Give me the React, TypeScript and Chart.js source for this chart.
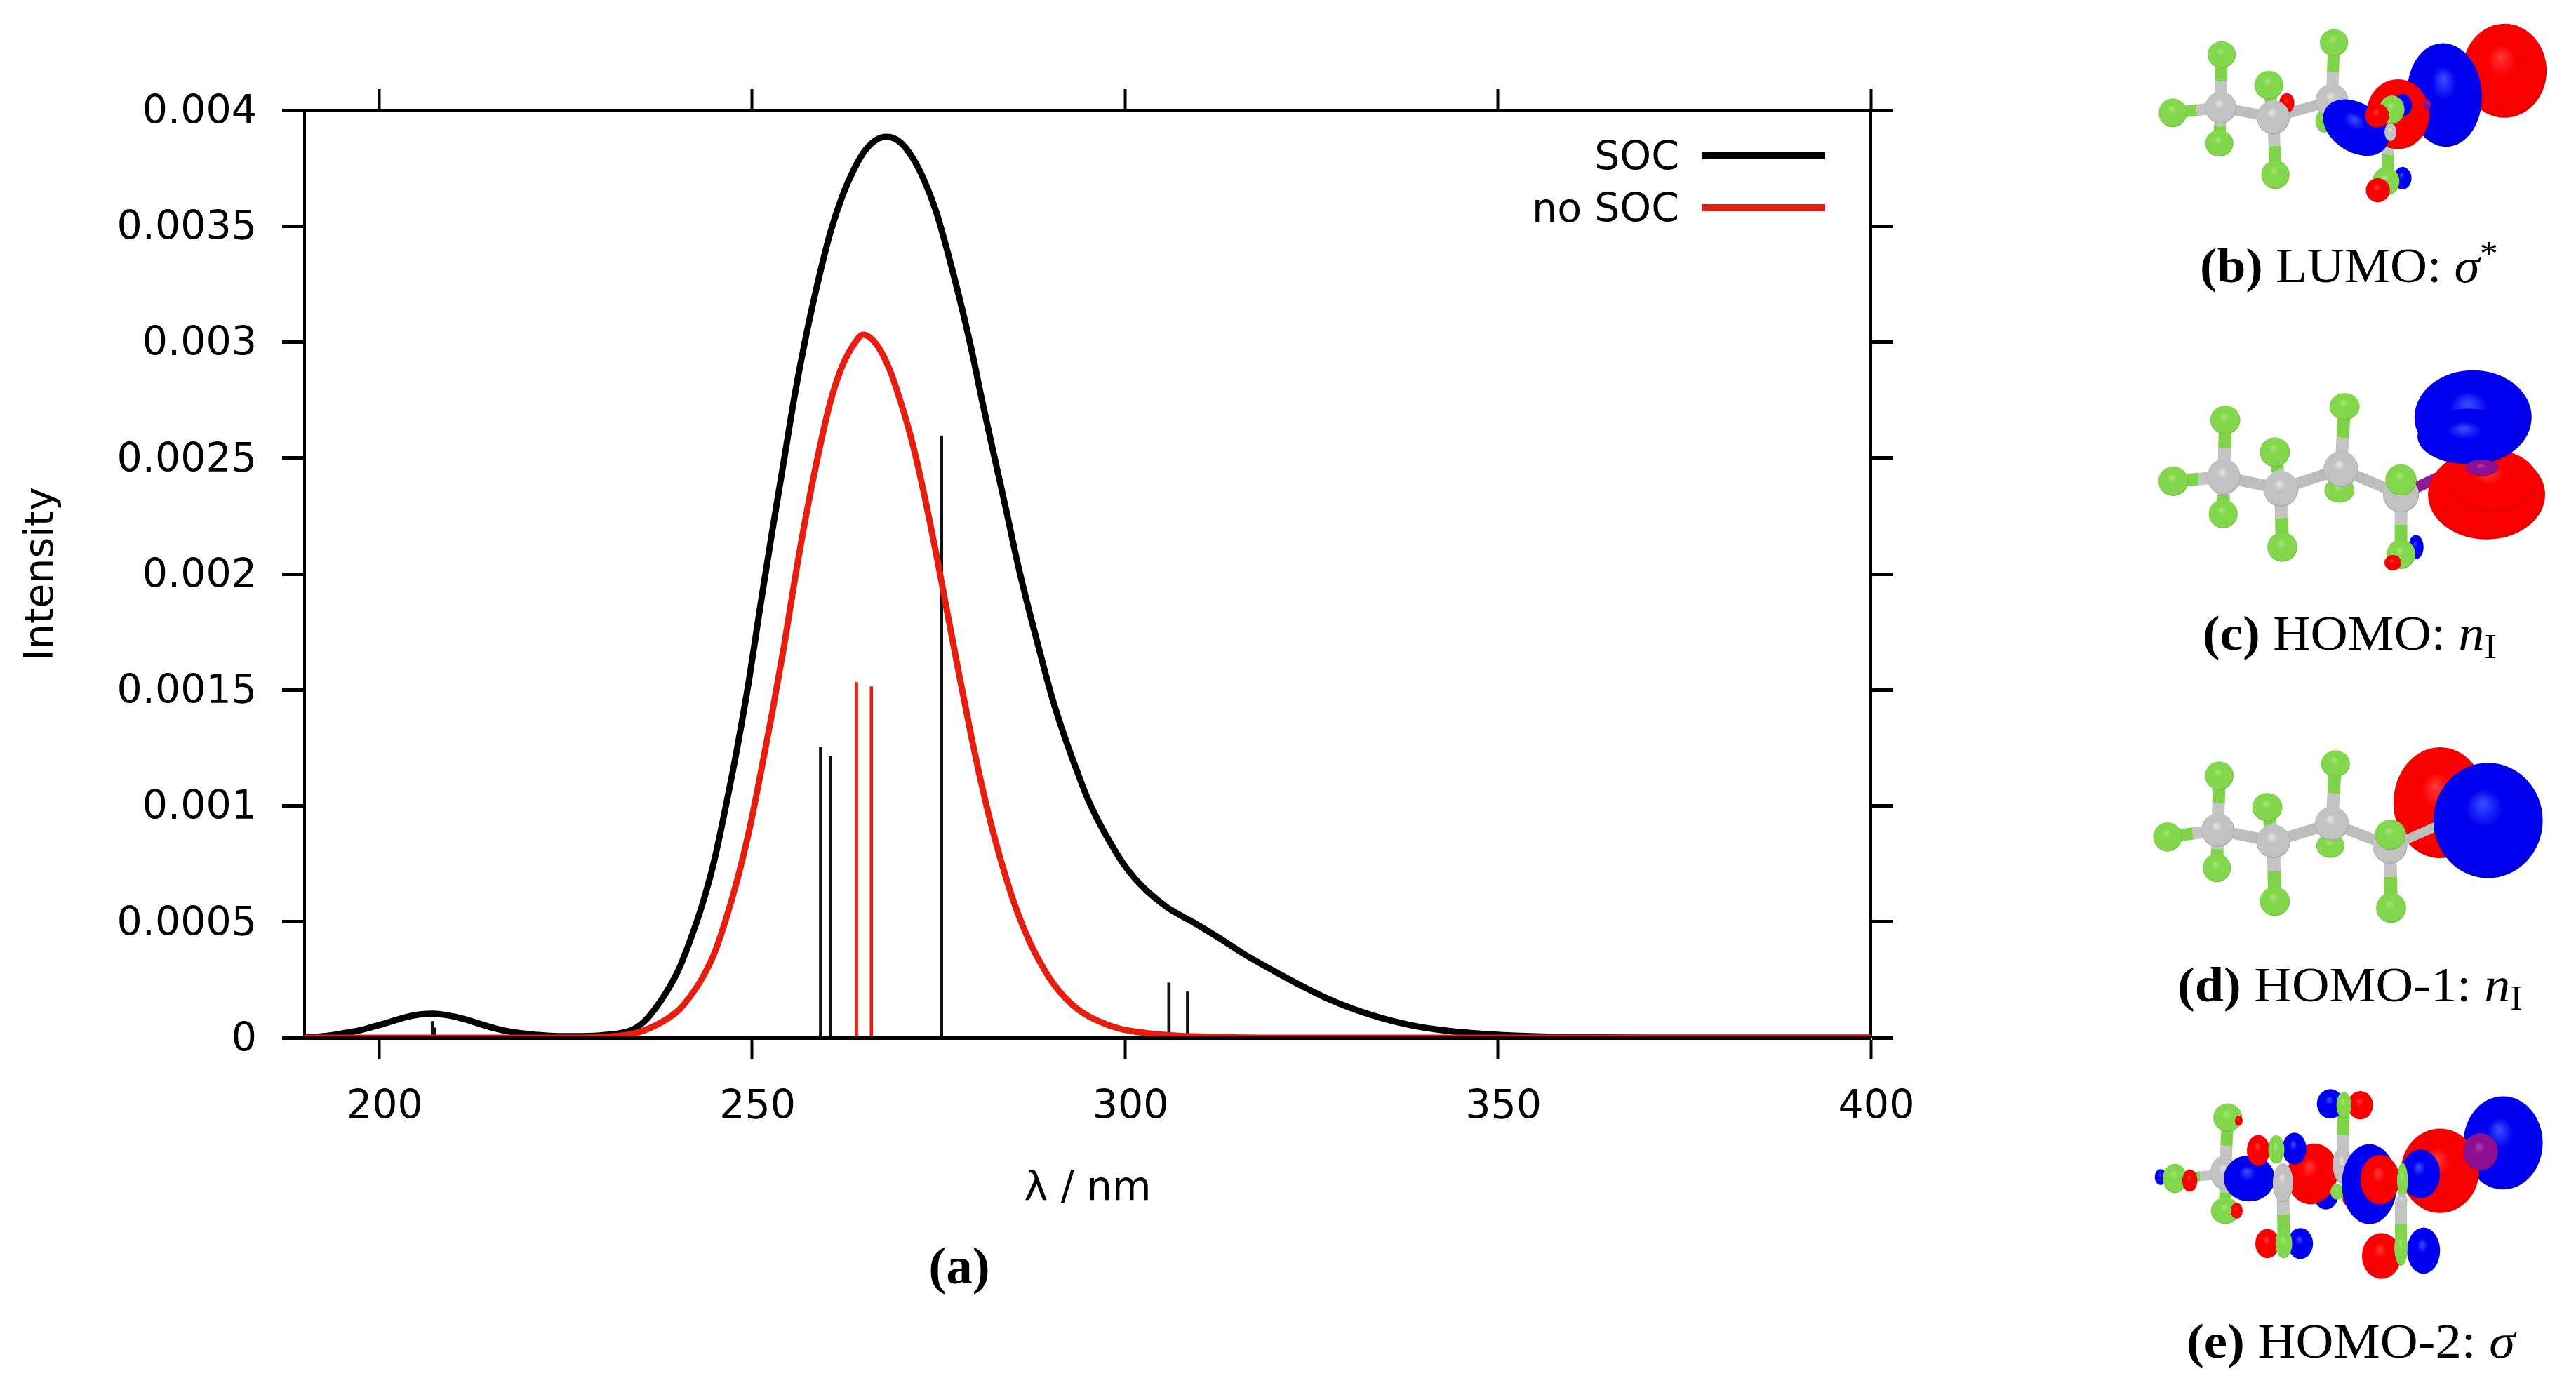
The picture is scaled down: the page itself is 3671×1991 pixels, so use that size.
import { useEffect, useRef } from "react"
import { Chart, registerables } from "chart.js"

Chart.register(...registerables)

const socWavelengths = [190, 192.8, 194.3, 195.9, 197.5, 199, 200.6, 202.2, 203.7, 205.3, 207.3, 209, 211.6, 213.1, 214.7, 216.2, 217.8, 219.4, 220.9, 224, 227.2, 230.3, 233.9, 235.5, 237, 238.6, 240.2, 241.7, 243.3, 244.9, 246.4, 248, 249.6, 251.1, 252.7, 254.3, 255.8, 257.4, 259, 260.5, 262.1, 263.7, 265.2, 266.8, 268.1, 269.9, 271.5, 273.1, 274.7, 276.2, 277.8, 279.4, 280.9, 282.5, 284.1, 285.6, 287.2, 288.8, 290.3, 291.9, 293.5, 295, 296.6, 298.2, 299.7, 301.3, 302.9, 304.5, 306, 309.2, 312.5, 316, 319.9, 323.5, 327.1, 330.7, 334.3, 337.9, 341.5, 345.1, 348.7, 352.3, 355.9, 360, 370, 400]
const socIntensity = [0.000001, 0.000008, 0.000014, 0.000023, 0.000033, 0.000046, 0.00006, 0.000076, 0.00009, 0.0001, 0.000104, 0.000098, 0.000079, 0.000064, 0.000048, 0.000035, 0.000025, 0.000018, 0.000013, 0.000007, 0.000007, 0.000012, 0.000034, 0.000069, 0.000125, 0.000201, 0.000297, 0.00042, 0.000571, 0.000759, 0.000985, 0.001248, 0.001544, 0.00186, 0.002183, 0.002494, 0.002785, 0.003051, 0.003282, 0.003473, 0.003629, 0.003747, 0.003828, 0.003875, 0.003885, 0.003861, 0.003796, 0.003696, 0.003561, 0.003391, 0.003191, 0.002971, 0.002739, 0.002504, 0.002272, 0.002047, 0.001835, 0.001637, 0.001459, 0.001299, 0.001156, 0.001031, 0.000924, 0.000832, 0.000754, 0.000688, 0.000635, 0.000591, 0.000555, 0.000497, 0.000433, 0.00036, 0.000289, 0.000227, 0.00017, 0.000123, 0.000086, 0.000057, 0.000037, 0.000024, 0.000015, 0.000009, 0.000005, 0.000002, 0, 0]

const noSocWavelengths = [190, 225, 230, 233.9, 237, 240.2, 241.7, 243.3, 244.9, 246.4, 248, 249.6, 251.1, 252.7, 254.3, 255.8, 257.4, 259, 260.5, 262.1, 263.7, 264.9, 266.8, 268.4, 269.9, 271.5, 273.1, 274.7, 275.5, 276.2, 277.8, 279.4, 280.9, 282.5, 284.1, 285.6, 287.2, 288.8, 290.3, 291.9, 293.5, 295, 296.6, 298.2, 299.7, 302.9, 306, 309.2, 312.3, 320, 400]
const noSocIntensity = [0, 0, 0.000004, 0.000016, 0.000052, 0.00012, 0.000178, 0.000256, 0.000361, 0.000501, 0.000679, 0.000891, 0.001131, 0.001401, 0.001691, 0.001989, 0.002279, 0.002534, 0.002742, 0.002897, 0.002992, 0.003032, 0.002985, 0.002885, 0.002745, 0.002565, 0.00234, 0.002085, 0.00195, 0.00183, 0.00156, 0.0013, 0.001075, 0.000865, 0.000685, 0.00054, 0.000415, 0.000315, 0.000238, 0.000175, 0.000127, 0.000095, 0.00007, 0.00005, 0.000036, 0.00002, 0.000011, 0.000006, 0.000003, 0, 0]

// 계산된 전이 (stick spectrum)
const socStickX = [207.15, 207.4, 259.2, 260.5, 275.4, 305.9, 308.4]
const socStickY = [0.000071, 0.000043, 0.001253, 0.001212, 0.002596, 0.000237, 0.000198]
const noSocStickX = [264, 266]
const noSocStickY = [0.001532, 0.001514]

const xTicks = [200, 250, 300, 350, 400]
const SOC_LABEL = "SOC"
const NO_SOC_LABEL = "no SOC"
const BLACK = "#000000"
const RED = "#e51e10"
const FONT = "'DejaVu Sans'"

const zip = (xs: number[], ys: number[]) => xs.map((x, i) => ({ x, y: ys[i] }))

// 범례: 글자 오른쪽에 선이 오는 gnuplot 형태
const legendPlugin = {
  id: "rightKey",
  afterDatasetsDraw(chart: Chart) {
    const { ctx } = chart
    const rows = [
      { label: SOC_LABEL, color: BLACK, y: 222 },
      { label: NO_SOC_LABEL, color: RED, y: 296 },
    ]
    ctx.save()
    ctx.font = `57px ${FONT}`
    ctx.textAlign = "right"
    ctx.textBaseline = "middle"
    rows.forEach((row) => {
      ctx.fillStyle = BLACK
      ctx.fillText(row.label, 2393, row.y + 5)
      ctx.fillStyle = row.color
      ctx.fillRect(2425, row.y - 5, 176, 10)
    })
    ctx.restore()
  },
}

type Shape = (string | number)[]

const GRAY = "g"
const GREEN = "f"
const R = "r"
const B = "b"
const P = "p"

// 분자 그림: [종류, ...좌표]. bond는 C->F 반쪽씩 색이 다름
const panelB: Shape[] = [
  ["cc", 385, 240, 560, 262, 24], ["cc", 560, 262, 755, 225, 24], ["cc", 755, 225, 945, 285, 24],
  ["cf", 385, 240, 225, 252, 26], ["cf", 385, 240, 388, 122, 40], ["cf", 385, 240, 380, 320, 40],
  ["cf", 560, 262, 545, 190, 40], ["cf", 560, 262, 567, 390, 40], ["cf", 755, 225, 762, 95, 40],
  ["cf", 945, 285, 940, 405, 40],
  [GREEN, 225, 252, 47, 32], [GREEN, 388, 122, 47, 30], [GREEN, 380, 320, 47, 30],
  [GREEN, 567, 390, 47, 32], [GREEN, 762, 95, 47, 30], [GREEN, 730, 270, 30, 26],
  [R, 605, 230, 25, 22],
  [GRAY, 385, 240, 52, 36], [GRAY, 560, 262, 55, 38], [GRAY, 755, 225, 55, 38],
  [GREEN, 545, 190, 48, 32],
  [R, 1330, 158, 140, 105], [B, 1130, 212, 125, 115, 15], [R, 975, 255, 105, 78],
  [P, 1072, 233, 12, 12],
  [B, 835, 285, 112, 58, 15], [GRAY, 950, 295, 20, 20],
  [B, 990, 235, 32, 25], [GREEN, 955, 245, 42, 32], [R, 905, 258, 40, 27],
  [B, 990, 398, 30, 25], [GREEN, 935, 405, 45, 32], [R, 908, 425, 40, 27],
]

const panelC: Shape[] = [
  ["cc", 395, 1065, 585, 1092, 26], ["cc", 585, 1092, 785, 1048, 26], ["cc", 785, 1048, 985, 1105, 26],
  ["bi", 985, 1105, 1210, 1035, 26],
  ["cf", 395, 1065, 227, 1075, 28], ["cf", 395, 1065, 400, 938, 42], ["cf", 395, 1065, 393, 1148, 42],
  ["cf", 585, 1092, 565, 1010, 42], ["cf", 585, 1092, 590, 1222, 44], ["cf", 785, 1048, 797, 908, 42],
  ["cf", 985, 1105, 985, 1238, 42],
  [GREEN, 227, 1075, 50, 33], [GREEN, 400, 938, 50, 32], [GREEN, 393, 1148, 48, 32],
  [GREEN, 590, 1222, 50, 33], [GREEN, 797, 908, 50, 30], [GREEN, 780, 1095, 50, 28],
  [GRAY, 395, 1065, 55, 40], [GRAY, 585, 1092, 58, 40], [GRAY, 785, 1048, 58, 40], [GRAY, 985, 1105, 60, 40],
  [GREEN, 565, 1010, 50, 33], [GREEN, 985, 1072, 52, 35],
  [B, 1035, 1222, 25, 27], [GREEN, 985, 1238, 48, 33], [R, 958, 1257, 28, 17],
  [R, 1270, 1105, 195, 100], [R, 1290, 1075, 150, 70],
  [B, 1225, 932, 195, 105], [B, 1210, 975, 170, 62],
  [P, 1255, 1045, 55, 18],
]

const panelD: Shape[] = [
  ["cc", 375, 290, 560, 315, 26], ["cc", 560, 315, 755, 275, 26], ["cc", 755, 275, 948, 325, 26],
  ["cc", 948, 325, 1100, 280, 24],
  ["cf", 375, 290, 208, 305, 28], ["cf", 375, 290, 380, 167, 42], ["cf", 375, 290, 372, 375, 42],
  ["cf", 560, 315, 540, 238, 42], ["cf", 560, 315, 565, 450, 44], ["cf", 755, 275, 767, 140, 42],
  ["cf", 948, 325, 952, 465, 44],
  [R, 1115, 228, 155, 125],
  [GREEN, 208, 305, 48, 33], [GREEN, 380, 167, 48, 32], [GREEN, 372, 375, 47, 32],
  [GREEN, 565, 450, 50, 33], [GREEN, 767, 140, 48, 30], [GREEN, 750, 325, 47, 27],
  [GRAY, 375, 290, 55, 38], [GRAY, 560, 315, 57, 38], [GRAY, 755, 275, 57, 38], [GRAY, 948, 325, 58, 40],
  [GREEN, 540, 238, 50, 32], [GREEN, 950, 300, 52, 34], [GREEN, 952, 465, 50, 34],
  ["cc", 1000, 312, 1100, 282, 22],
  [B, 1275, 268, 182, 130],
]

const panelE: Shape[] = [
  [B, 1325, 995, 132, 105],
  [B, 735, 1115, 40, 30], [R, 820, 1120, 30, 20],
  ["cc", 400, 1065, 590, 1090, 24],
  ["cf", 400, 1065, 408, 938, 40], ["cf", 400, 1065, 400, 1148, 40], ["cf", 400, 1065, 232, 1075, 22],
  [B, 185, 1072, 20, 18], [GREEN, 232, 1075, 40, 33], [R, 282, 1080, 25, 25],
  [GREEN, 408, 938, 48, 32], [R, 445, 945, 13, 12],
  [GREEN, 400, 1148, 48, 30], [R, 438, 1148, 20, 18],
  [GRAY, 395, 1062, 45, 38],
  [R, 690, 1065, 85, 68, -10],
  [B, 480, 1075, 85, 52],
  [R, 510, 1012, 38, 35], [B, 630, 1008, 40, 36], [GREEN, 570, 1010, 27, 32],
  ["cf", 592, 1090, 595, 1222, 42], [GRAY, 592, 1085, 34, 44],
  [R, 540, 1222, 40, 33], [B, 650, 1222, 42, 35], [GREEN, 595, 1222, 28, 33],
  ["cf", 790, 1045, 795, 910, 40],
  [B, 750, 907, 45, 33], [R, 850, 910, 42, 32], [GREEN, 795, 910, 25, 30],
  [GRAY, 790, 1045, 32, 42], [GREEN, 772, 1105, 22, 18],
  [R, 1115, 1058, 130, 95],
  [P, 1250, 1015, 58, 42],
  [B, 880, 1088, 92, 90],
  [B, 1050, 1065, 65, 55], [R, 915, 1078, 65, 56], [GREEN, 990, 1080, 18, 40],
  ["cf", 985, 1125, 985, 1230, 40], [GRAY, 988, 1125, 18, 16],
  [R, 920, 1250, 65, 52], [B, 1060, 1238, 55, 52], [GREEN, 985, 1232, 22, 40],
]

const blobFill: Record<string, string> = { g: "url(#gC)", f: "url(#gF)", r: "url(#gR)", b: "url(#gB)", p: "url(#gP)" }

function Molecule({ shapes, transform }: { shapes: Shape[]; transform: string }) {
  return (
    <g transform={transform}>
      {shapes.map((s, i) => {
        const [kind, a, b, c, d, e] = s as [string, number, number, number, number, number]
        if (kind === "cc") {
          return <line key={i} x1={a} y1={b} x2={c} y2={d} stroke="#bdbdbd" strokeWidth={e} />
        }
        if (kind === "bi") {
          return <line key={i} x1={a} y1={b} x2={c} y2={d} stroke="#8e1a94" strokeWidth={e} />
        }
        if (kind === "cf") {
          const mx = (a + c) / 2
          const my = (b + d) / 2
          return (
            <g key={i}>
              <line x1={a} y1={b} x2={mx} y2={my} stroke="#c4c4c4" strokeWidth={e} />
              <line x1={mx} y1={my} x2={c} y2={d} stroke="#7ed348" strokeWidth={e} />
            </g>
          )
        }
        return (
          <ellipse
            key={i}
            cx={a}
            cy={b}
            rx={c}
            ry={d}
            fill={blobFill[kind]}
            transform={e ? `rotate(${e} ${a} ${b})` : undefined}
          />
        )
      })}
    </g>
  )
}

function Gradient({ id, light, mid, dark }: { id: string; light: string; mid: string; dark: string }) {
  return (
    <radialGradient id={id} cx="0.5" cy="0.5" r="0.55" fx="0.45" fy="0.35">
      <stop offset="0" stopColor={light} />
      <stop offset="0.3" stopColor={mid} />
      <stop offset="0.85" stopColor={mid} />
      <stop offset="1" stopColor={dark} />
    </radialGradient>
  )
}

const serif = { fontFamily: "'Liberation Serif'", fontSize: 70, fill: "#000" }

function Illustrations() {
  return (
    <svg width={3671} height={1991} style={{ position: "absolute", left: 0, top: 0 }}>
      <defs>
        <Gradient id="gC" light="#e6e6e6" mid="#c2c2c2" dark="#8a8a8a" />
        <Gradient id="gF" light="#a6e878" mid="#82d74c" dark="#5c9a34" />
        <Gradient id="gR" light="#ff3a3a" mid="#fb0000" dark="#c80000" />
        <Gradient id="gB" light="#3a50ff" mid="#0000f0" dark="#0000a8" />
        <Gradient id="gP" light="#b040b0" mid="#8e1090" dark="#6a0a70" />
      </defs>
      <Molecule shapes={panelB} transform="translate(3000,0) scale(0.428,0.638)" />
      <Molecule shapes={panelC} transform="translate(3000,0) scale(0.428,0.638)" />
      <Molecule shapes={panelD} transform="translate(3000,1000) scale(0.428,0.632)" />
      <Molecule shapes={panelE} transform="translate(3000,1000) scale(0.428,0.632)" />

      <text x={1367} y={1829} textAnchor="middle" {...serif} fontSize={75} fontWeight="bold">
        (a)
      </text>
      <text x={3135} y={402} textLength={425} lengthAdjust="spacingAndGlyphs" {...serif}>
        <tspan fontWeight="bold">(b)</tspan> LUMO: <tspan fontStyle="italic">σ</tspan>
        <tspan dy={-24} fontSize={50}>*</tspan>
      </text>
      <text x={3139} y={926} textLength={419} lengthAdjust="spacingAndGlyphs" {...serif}>
        <tspan fontWeight="bold">(c)</tspan> HOMO: <tspan fontStyle="italic">n</tspan>
        <tspan dy={12} fontSize={50}>I</tspan>
      </text>
      <text x={3103} y={1427} textLength={492} lengthAdjust="spacingAndGlyphs" {...serif}>
        <tspan fontWeight="bold">(d)</tspan> HOMO-1: <tspan fontStyle="italic">n</tspan>
        <tspan dy={12} fontSize={50}>I</tspan>
      </text>
      <text x={3116} y={1935} textLength={468} lengthAdjust="spacingAndGlyphs" {...serif}>
        <tspan fontWeight="bold">(e)</tspan> HOMO-2: <tspan fontStyle="italic">σ</tspan>
      </text>
    </svg>
  )
}

export default function App() {
  const chartRef = useRef<HTMLCanvasElement>(null)

  useEffect(() => {
    if (!chartRef.current) return

    const tickFont = { family: FONT, size: 57 }
    const hiddenGrid = { drawOnChartArea: false, color: BLACK, offset: false }
    const xAxis = {
      type: "linear" as const,
      min: 190,
      max: 400,
      offset: false, // bar 데이터셋이 기본으로 켜는 offset 끄기
    }
    const yAxis = {
      type: "linear" as const,
      min: 0,
      max: 0.004,
    }

    const chart = new Chart(chartRef.current, {
      type: "line",
      data: {
        datasets: [
          {
            type: "bar" as const,
            label: "SOC transitions",
            data: zip(socStickX, socStickY),
            backgroundColor: "#111111",
            barThickness: 4,
            grouped: false,
            order: 3,
          },
          {
            type: "bar" as const,
            label: "no SOC transitions",
            data: zip(noSocStickX, noSocStickY),
            backgroundColor: RED,
            barThickness: 4,
            grouped: false,
            order: 3,
          },
          {
            label: SOC_LABEL,
            data: zip(socWavelengths, socIntensity),
            borderColor: BLACK,
            borderWidth: 9,
            pointRadius: 0,
            cubicInterpolationMode: "monotone" as const,
            order: 2,
          },
          {
            label: NO_SOC_LABEL,
            data: zip(noSocWavelengths, noSocIntensity),
            borderColor: RED,
            borderWidth: 9,
            pointRadius: 0,
            cubicInterpolationMode: "monotone" as const,
            order: 1,
          },
        ],
      },
      options: {
        responsive: false,
        animation: false,
        devicePixelRatio: 1,
        layout: { padding: 0 },
        plugins: {
          legend: { display: false },
          tooltip: { enabled: false },
        },
        scales: {
          x: {
            ...xAxis,
            position: "bottom",
            afterFit: (s: any) => { s.height = 512 },
            afterBuildTicks: (s: any) => { s.ticks = xTicks.map((value) => ({ value })) },
            title: {
              display: true,
              text: "λ / nm",
              color: BLACK,
              font: tickFont,
              padding: { top: 0, bottom: 262 },
            },
            border: { color: BLACK, width: 5, z: 1 },
            grid: { ...hiddenGrid, tickLength: 30, tickWidth: 4 },
            ticks: { color: BLACK, font: tickFont, padding: 36, labelOffset: 8, maxRotation: 0, autoSkip: false },
          },
          x2: {
            ...xAxis,
            axis: "x",
            position: "top",
            afterFit: (s: any) => { s.height = 157 },
            afterBuildTicks: (s: any) => { s.ticks = xTicks.map((value) => ({ value })) },
            border: { color: BLACK, width: 5 },
            grid: { ...hiddenGrid, tickLength: 30, tickWidth: 4 },
            ticks: { display: false },
          },
          y: {
            ...yAxis,
            position: "left",
            afterFit: (s: any) => { s.width = 434 },
            title: {
              display: true,
              text: "Intensity",
              color: BLACK,
              font: tickFont,
              padding: { top: 26, bottom: 0 },
            },
            border: { color: BLACK, width: 4 },
            grid: { ...hiddenGrid, tickLength: 32, tickWidth: 5 },
            ticks: {
              color: BLACK,
              font: tickFont,
              padding: 36,
              labelOffset: 4,
              stepSize: 0.0005,
              callback: (value: number | string) => String(Number(Number(value).toFixed(4))),
            },
          },
          y2: {
            ...yAxis,
            axis: "y",
            position: "right",
            afterFit: (s: any) => { s.width = 1005 },
            border: { color: BLACK, width: 4 },
            grid: { ...hiddenGrid, tickLength: 32, tickWidth: 5 },
            ticks: { display: false, stepSize: 0.0005 },
          },
        },
      },
      plugins: [legendPlugin],
    } as any)

    return () => chart.destroy()
  }, [])

  return (
    <div style={{ position: "absolute", left: 0, top: 0, width: 3671, height: 1991, background: "#fff" }}>
      <canvas ref={chartRef} width={3671} height={1991} style={{ display: "block" }} />
      <Illustrations />
    </div>
  )
}
